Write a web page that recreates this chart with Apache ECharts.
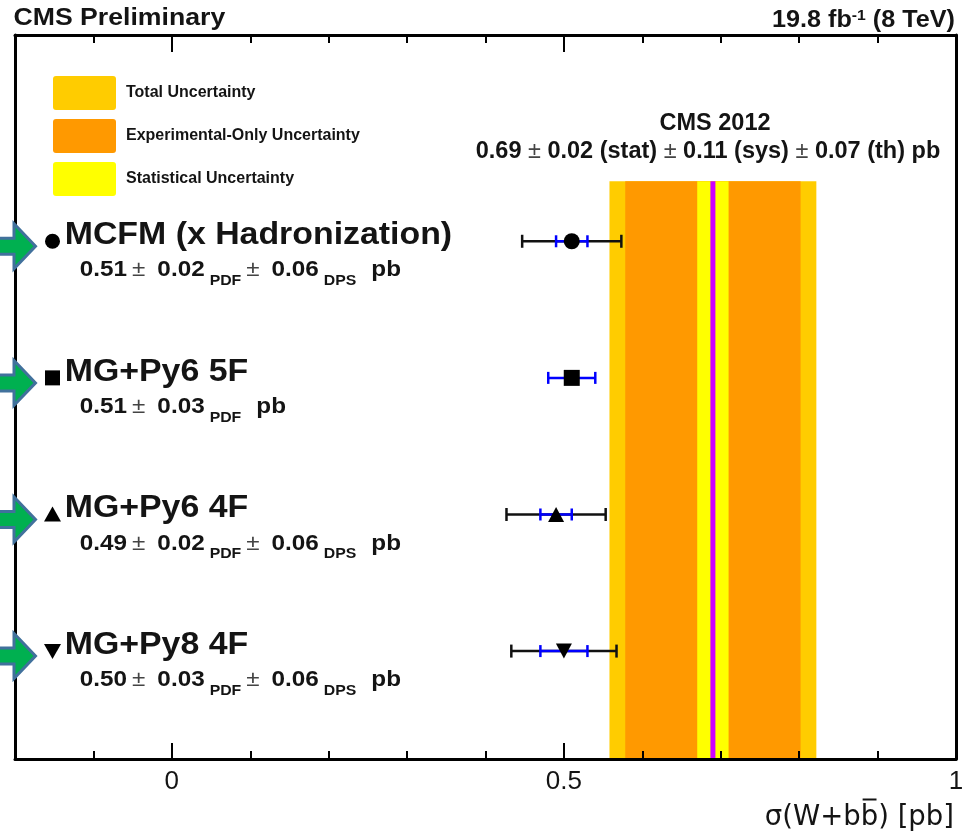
<!DOCTYPE html>
<html>
<head>
<meta charset="utf-8">
<script src="https://cdn.jsdelivr.net/npm/echarts@6/dist/echarts.min.js"></script>
<style>html,body{margin:0;padding:0;background:#fff}#c{width:972px;height:835px}</style>
</head>
<body>
<div id="c"></div>
<script>
// ---------------- data ----------------
const modelNames = ['MCFM (x Hadronization)', 'MG+Py6 5F', 'MG+Py6 4F', 'MG+Py8 4F'];
const modelRows = [4, 3, 2, 1];
const modelCentral = [0.51, 0.51, 0.49, 0.50];
const modelPdf = [0.02, 0.03, 0.02, 0.03];
const modelDps = [0.06, null, 0.06, 0.06];
const modelSymbols = ['circle', 'rect', 'triangle', 'triangleDown'];

const cmsCentral = 0.69;
const cmsStat = 0.02;
const cmsSys = 0.11;
const cmsTh = 0.07;

const majorTicks = [0, 0.5, 1];
const minorTicks = [-0.1, 0.1, 0.2, 0.3, 0.4, 0.6, 0.7, 0.8, 0.9];
const xMin = -0.2, xMax = 1.0;
const legendLabels = ['Total Uncertainty', 'Experimental-Only Uncertainty', 'Statistical Uncertainty'];

// ---------------- styling / layout ----------------
const F = 'Liberation Sans, Arial, Helvetica, sans-serif';
const FD = 'DejaVu Sans, sans-serif';
const TXT = '#141414';
const bandColors = ['#FFCC00', '#FF9900', '#FFFF00'];
const centralColor = '#CC00FF';
const yMin = 0.21, yMax = 5.51, bandTop = 4.44;

const totErr = Math.sqrt(cmsStat * cmsStat + cmsSys * cmsSys + cmsTh * cmsTh);
const expErr = Math.sqrt(cmsStat * cmsStat + cmsSys * cmsSys);
const bandHalf = [totErr, expErr, cmsStat];
const bandData = bandHalf.map(h => [cmsCentral - h, cmsCentral + h]);

const fmt = v => v.toFixed(2);

function symbolShape(sym, cx, cy, color) {
  const st = { fill: color };
  if (sym === 'circle') return { type: 'circle', shape: { cx, cy, r: 7.5 }, style: st };
  if (sym === 'rect') return { type: 'rect', shape: { x: cx - 7.5, y: cy - 7.5, width: 15, height: 15 }, style: st };
  if (sym === 'triangle') return { type: 'polygon', shape: { points: [[cx, cy - 8], [cx + 8.5, cy + 7], [cx - 8.5, cy + 7]] }, style: st };
  return { type: 'polygon', shape: { points: [[cx - 8.5, cy - 7], [cx + 8.5, cy - 7], [cx, cy + 8]] }, style: st };
}

const tokBase = { fontFamily: F, fontWeight: 'bold', fontSize: 21.5, fill: TXT, color: TXT, verticalAlign: 'top' };
const valueRich = {
  v: Object.assign({}, tokBase),
  pm: Object.assign({}, tokBase, { fontWeight: 'normal', fill: '#444', color: '#444', padding: [0, 10.6, 0, 4.4] }),
  s: Object.assign({}, tokBase, { fontSize: 14, padding: [14.6, 0, 0, 4.4] }),
  u: Object.assign({}, tokBase, { padding: [0, 0, 0, 13.3] })
};

function valueText(i) {
  let s = '{v|' + fmt(modelCentral[i]) + '}{pm|±}{v|' + fmt(modelPdf[i]) + '}{s|PDF}';
  if (modelDps[i] != null) s += '{pm|±}{v|' + fmt(modelDps[i]) + '}{s|DPS}';
  s += '{u|pb}';
  return s;
}

function renderBands(params, api) {
  const i = params.dataIndex;
  if (i < bandData.length) {
    const p1 = api.coord([api.value(0), bandTop]);
    const p2 = api.coord([api.value(1), yMin]);
    return { type: 'rect', shape: { x: p1[0], y: p1[1], width: p2[0] - p1[0], height: p2[1] - p1[1] }, style: { fill: bandColors[i] } };
  }
  const a = api.coord([api.value(0), bandTop]);
  const b = api.coord([api.value(0), yMin]);
  return { type: 'line', shape: { x1: a[0], y1: a[1], x2: b[0], y2: b[1] }, style: { stroke: centralColor, lineWidth: 5 } };
}

function hbar(l, r, y, half, color, w) {
  return [
    { type: 'line', shape: { x1: l, y1: y, x2: r, y2: y }, style: { stroke: color, lineWidth: w } },
    { type: 'line', shape: { x1: l, y1: y - half, x2: l, y2: y + half }, style: { stroke: color, lineWidth: w } },
    { type: 'line', shape: { x1: r, y1: y - half, x2: r, y2: y + half }, style: { stroke: color, lineWidth: w } }
  ];
}

function renderErr(params, api) {
  const c = api.value(0), row = api.value(1), pdf = api.value(2), dps = api.value(3);
  const y = api.coord([c, row])[1];
  let ch = [];
  if (isFinite(dps) && dps > 0) {
    const tot = Math.sqrt(pdf * pdf + dps * dps);
    ch = ch.concat(hbar(api.coord([c - tot, row])[0], api.coord([c + tot, row])[0], y, 6.5, '#111', 2.5));
  }
  ch = ch.concat(hbar(api.coord([c - pdf, row])[0], api.coord([c + pdf, row])[0], y, 6, '#0000FF', 2.5));
  return { type: 'group', children: ch };
}

function renderLabels(params, api) {
  const i = params.dataIndex;
  const y = api.coord([xMin, api.value(1)])[1];
  const ay = y + 5;
  const ch = [];
  ch.push({
    type: 'polygon',
    shape: { points: [[-6, ay - 8], [14, ay - 8], [14, ay - 22.5], [35.5, ay], [14, ay + 22.5], [14, ay + 8], [-6, ay + 8]] },
    style: { fill: '#00B050', stroke: '#41719C', lineWidth: 3, lineJoin: 'miter' }
  });
  ch.push(symbolShape(modelSymbols[i], 52.5, y, '#000'));
  ch.push({
    type: 'text', x: 64.7, y: y - 5.5, scaleX: 1.11, scaleY: 1,
    style: {
      text: modelNames[i], x: 0, y: 0,
      fontFamily: F, fontWeight: 'bold', fontSize: 30.5, fill: TXT,
      align: 'left', verticalAlign: 'middle', textAlign: 'left', textVerticalAlign: 'middle'
    }
  });
  ch.push({
    type: 'text', x: 79.8, y: y + 18.25, scaleX: 1.13, scaleY: 1,
    style: {
      text: valueText(i), x: 0, y: 0,
      fontFamily: F, fontWeight: 'bold', fontSize: 21.5, fill: TXT,
      align: 'left', verticalAlign: 'top', textAlign: 'left', textVerticalAlign: 'top',
      rich: valueRich
    }
  });
  return { type: 'group', children: ch };
}

const modelData = modelCentral.map((c, i) => [c, modelRows[i], modelPdf[i], modelDps[i] == null ? '-' : modelDps[i]]);
const markerData = modelCentral.map((c, i) => {
  const s = modelSymbols[i];
  const item = { value: [c, modelRows[i]] };
  if (s === 'circle') { item.symbol = 'circle'; item.symbolSize = 16; }
  else if (s === 'rect') { item.symbol = 'rect'; item.symbolSize = 16; }
  else if (s === 'triangle') { item.symbol = 'triangle'; item.symbolSize = [16, 15]; }
  else { item.symbol = 'triangle'; item.symbolSize = [16, 15]; item.symbolRotate = 180; }
  return item;
});

const axisLineStyle = { color: '#000', width: 3 };
const tickStyle = { color: '#000', width: 2 };
function xAx(pos, ticks, len, showLine, showLabel) {
  return {
    type: 'value', min: xMin, max: xMax, position: pos, z: 10,
    axisLine: { show: showLine, onZero: false, lineStyle: axisLineStyle },
    axisTick: { show: true, inside: true, length: len, customValues: ticks, lineStyle: tickStyle },
    axisLabel: showLabel
      ? { show: true, customValues: majorTicks, fontFamily: F, fontSize: 26, color: TXT, margin: 10 }
      : { show: false },
    splitLine: { show: false },
    minorTick: { show: false }
  };
}

// x-axis title with an overline on the anti-b
const axisTitle = 'σ(W+bb) [pb]';
const axisTitleTail = ') [pb]';
const axisTitleSize = 27.5;
const axisTitleRight = 954;
const mctx = document.createElement('canvas').getContext('2d');
mctx.font = axisTitleSize + 'px DejaVu Sans';
const tailW = mctx.measureText(axisTitleTail).width;
const bW = mctx.measureText('b').width;
const barR = axisTitleRight - tailW - 0.06 * axisTitleSize;
const barL = axisTitleRight - tailW - bW + 0.07 * axisTitleSize;

// graphic texts
const graphics = [
  { type: 'text', x: 13.5, y: 18, scaleX: 1.11, style: { text: 'CMS Preliminary', x: 0, y: 0, fontFamily: F, fontWeight: 'bold', fontSize: 24, fill: TXT, align: 'left', verticalAlign: 'middle', textAlign: 'left', textVerticalAlign: 'middle' } },
  { type: 'text', x: 955, y: 8, scaleX: 1.05, style: {
      text: '19.8 fb{sup|-1} (8 TeV)', x: 0, y: 0, fontFamily: F, fontWeight: 'bold', fontSize: 24, fill: TXT,
      align: 'right', verticalAlign: 'top', textAlign: 'right', textVerticalAlign: 'top',
      rich: { sup: { fontFamily: F, fontWeight: 'bold', fontSize: 15, fill: TXT, color: TXT, verticalAlign: 'top' } }
  } },
  { type: 'text', style: { text: 'CMS 2012', x: 715, y: 123.5, fontFamily: F, fontWeight: 'bold', fontSize: 23.5, fill: TXT, align: 'center', verticalAlign: 'middle', textAlign: 'center', textVerticalAlign: 'middle' } },
  { type: 'text', style: {
      text: fmt(cmsCentral) + ' {pm|±} ' + fmt(cmsStat) + ' (stat) {pm|±} ' + fmt(cmsSys) + ' (sys) {pm|±} ' + fmt(cmsTh) + ' (th) pb',
      x: 708, y: 152, fontFamily: F, fontWeight: 'bold', fontSize: 23.5, fill: TXT,
      align: 'center', verticalAlign: 'middle', textAlign: 'center', textVerticalAlign: 'middle',
      rich: { pm: { fontFamily: F, fontWeight: 'normal', fontSize: 23.5, fill: '#444', color: '#444' } }
  } },
  { type: 'text', style: { text: axisTitle, x: axisTitleRight, y: 818, fontFamily: FD, fontSize: axisTitleSize, fill: TXT, align: 'right', verticalAlign: 'middle', textAlign: 'right', textVerticalAlign: 'middle' } },
  { type: 'line', shape: { x1: barL, y1: 799.5, x2: barR, y2: 799.5 }, style: { stroke: TXT, lineWidth: 2 } }
];
const legendTop = [76, 119, 162];
legendLabels.forEach((t, i) => {
  graphics.push({ type: 'rect', shape: { x: 53, y: legendTop[i], width: 63, height: 34, r: 3 }, style: { fill: bandColors[i] } });
  graphics.push({ type: 'text', style: { text: t, x: 126, y: legendTop[i] + 17, fontFamily: F, fontWeight: 'bold', fontSize: 16, fill: TXT, align: 'left', verticalAlign: 'middle', textAlign: 'left', textVerticalAlign: 'middle' } });
});

const chart = echarts.init(document.getElementById('c'), null, { renderer: 'canvas' });
chart.setOption({
  animation: false,
  backgroundColor: '#fff',
  grid: { left: 15, right: 16, top: 35, bottom: 76, containLabel: false, outerBoundsMode: 'none' },
  xAxis: [
    xAx('bottom', majorTicks, 16, true, true),
    xAx('bottom', minorTicks, 8, false, false),
    xAx('top', majorTicks, 17, true, false),
    xAx('top', minorTicks, 8, false, false)
  ],
  yAxis: [
    { type: 'value', min: yMin, max: yMax, position: 'left', axisLine: { show: true, onZero: false, lineStyle: axisLineStyle }, axisTick: { show: false }, axisLabel: { show: false }, splitLine: { show: false } },
    { type: 'value', min: 0, max: 1, position: 'right', axisLine: { show: true, onZero: false, lineStyle: axisLineStyle }, axisTick: { show: false }, axisLabel: { show: false }, splitLine: { show: false } }
  ],
  graphic: graphics,
  series: [
    { type: 'custom', name: 'CMS 2012', coordinateSystem: 'cartesian2d', renderItem: renderBands, z: 1, silent: true,
      data: bandData.concat([[cmsCentral, cmsCentral]]) },
    { type: 'custom', name: 'errors', coordinateSystem: 'cartesian2d', renderItem: renderErr, z: 3, silent: true,
      dimensions: ['x', 'y', 'pdf', 'dps'], encode: { x: 0, y: 1 }, data: modelData },
    { type: 'scatter', name: 'models', z: 4, silent: true, itemStyle: { color: '#000', opacity: 1 }, data: markerData },
    { type: 'custom', name: 'labels', coordinateSystem: 'cartesian2d', renderItem: renderLabels, z: 2, silent: true,
      dimensions: ['x', 'y', 'pdf', 'dps'], encode: { x: 0, y: 1 }, data: modelData }
  ]
});
</script>
</body>
</html>
